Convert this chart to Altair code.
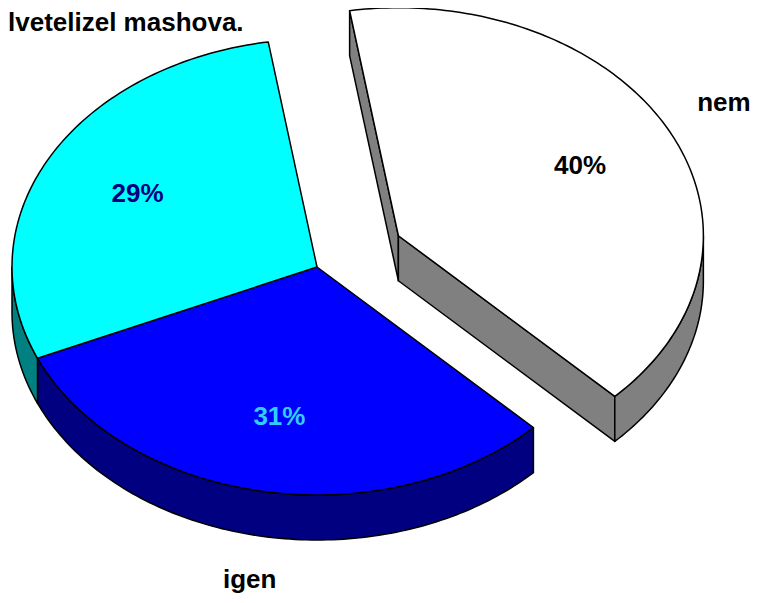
import math
import altair as alt
import pandas as pd

# ---- data ----
categories = ["nem", "igen", "egyéb"]        # third slice has no visible outer label
values = [40, 31, 29]                        # percent
pct_labels = ["40%", "31%", "29%"]
outer_labels = ["nem", "igen", ""]
exploded = [True, False, False]
title_text = "lvetelizel mashova."

# ---- styles ----
top_colors = ["#FFFFFF", "#0000FF", "#00FFFF"]
side_colors = ["#808080", "#000080", "#008080"]
pct_colors = ["#000000", "#33CCFF", "#000080"]
FONT = "Liberation Sans"
FS = 26

# ---- layout of the 3-D pie (plot units = page pixels) ----
W, H = 743, 587
CX, CY = 317, 267      # centre of the top face
RX, RY = 305, 228      # ellipse semi axes
DEPTH = 45
START = -9.2           # start angle (deg, clockwise from top)
EXPLODE = 0.3


def pt(cx, cy, t, dy=0.0):
    r = math.radians(t)
    return cx + RX * math.sin(r), cy - RY * math.cos(r) + dy


def arc(cx, cy, t1, t2, dy=0.0):
    n = max(2, int(abs(t2 - t1)) + 1)
    return [pt(cx, cy, t1 + (t2 - t1) * k / (n - 1), dy) for k in range(n)]


total = sum(values)
slices = []
t = START
for i, v in enumerate(values):
    t1, t2 = t, t + 360.0 * v / total
    mid = (t1 + t2) / 2
    cx, cy = CX, CY
    if exploded[i]:
        m = math.radians(mid)
        cx += EXPLODE * RX * math.sin(m)
        cy -= EXPLODE * RY * math.cos(m)
    slices.append(dict(i=i, t1=t1, t2=t2, mid=mid, cx=cx, cy=cy))
    t = t2

side_rows, top_rows = [], []


def add_poly(rows, pid, face, pts):
    for k, (x, y) in enumerate(pts):
        rows.append({"poly": pid, "face": face, "i": k, "x": x, "y": y})


n = len(slices)
for s in slices:
    i, c = s["i"], categories[s["i"]]
    cx, cy, t1, t2 = s["cx"], s["cy"], s["t1"], s["t2"]
    gap_before = exploded[i] or exploded[(i - 1) % n]
    gap_after = exploded[i] or exploded[(i + 1) % n]
    # radial faces
    if gap_before and math.sin(math.radians(t1)) < 0:
        p = pt(cx, cy, t1)
        add_poly(side_rows, f"r1_{c}", f"side:{c}",
                 [(cx, cy), p, (p[0], p[1] + DEPTH), (cx, cy + DEPTH)])
    if gap_after and math.sin(math.radians(t2)) > 0:
        p = pt(cx, cy, t2)
        add_poly(side_rows, f"r2_{c}", f"side:{c}",
                 [(cx, cy), p, (p[0], p[1] + DEPTH), (cx, cy + DEPTH)])
    # outer wall (front half only)
    for k in (-360, 0, 360):
        lo, hi = max(t1, 90 + k), min(t2, 270 + k)
        if lo < hi:
            add_poly(side_rows, f"w{k}_{c}", f"side:{c}",
                     arc(cx, cy, lo, hi) + arc(cx, cy, hi, lo, DEPTH))
    # top face
    add_poly(top_rows, f"top_{c}", f"top:{c}", [(cx, cy)] + arc(cx, cy, t1, t2))

sides = pd.DataFrame(side_rows)
tops = pd.DataFrame(top_rows)

pct_rows, out_rows = [], []
for s in slices:
    m = math.radians(s["mid"])
    pct_rows.append({
        "x": s["cx"] + 0.67 * RX * math.sin(m),
        "y": s["cy"] - 0.67 * RY * math.cos(m),
        "text": pct_labels[s["i"]], "col": pct_colors[s["i"]]})
    if outer_labels[s["i"]]:
        out_rows.append({
            "x": s["cx"] + 1.2 * RX * math.sin(m),
            "y": s["cy"] - 1.27 * RY * math.cos(m) + (0.64 * DEPTH if math.cos(m) < 0 else 0),
            "text": outer_labels[s["i"]]})
pct_df = pd.DataFrame(pct_rows)
out_df = pd.DataFrame(out_rows)

xs = alt.Scale(domain=[8, 8 + W], nice=False, zero=False)
ys = alt.Scale(domain=[8, 8 + H], nice=False, zero=False, reverse=True)
X = alt.X("x:Q", scale=xs, axis=None)
Y = alt.Y("y:Q", scale=ys, axis=None)
fill_scale = alt.Scale(
    domain=[f"top:{c}" for c in categories] + [f"side:{c}" for c in categories],
    range=top_colors + side_colors)


def faces(df):
    return alt.Chart(df).mark_line(
        interpolate="linear-closed", filled=True, stroke="black",
        strokeWidth=1.5, strokeJoin="round"
    ).encode(x=X, y=Y, detail="poly:N", order="i:Q",
             fill=alt.Fill("face:N", scale=fill_scale, legend=None))


side_layer = faces(sides)
top_layer = faces(tops)

pct_layer = alt.Chart(pct_df).mark_text(
    font=FONT, fontSize=FS, fontWeight="bold", baseline="middle", align="center"
).encode(x=X, y=Y, text="text:N", color=alt.Color("col:N", scale=None))

out_layer = alt.Chart(out_df).mark_text(
    font=FONT, fontSize=FS, fontWeight="bold", baseline="middle", align="center",
    color="black"
).encode(x=X, y=Y, text="text:N")

title_layer = alt.Chart(pd.DataFrame({"t": [title_text]})).mark_text(
    font=FONT, fontSize=FS, fontWeight="bold", baseline="alphabetic", align="left",
    color="black"
).encode(x=alt.value(0), y=alt.value(23), text="t:N")

chart = alt.layer(side_layer, top_layer, pct_layer, out_layer, title_layer).properties(
    width=W, height=H, padding=0, background="white",
    autosize=alt.AutoSizeParams(type="none"),
).configure_view(stroke="transparent", strokeWidth=0)

chart.save("out.html", embed_options={"renderer": "svg", "actions": False})
